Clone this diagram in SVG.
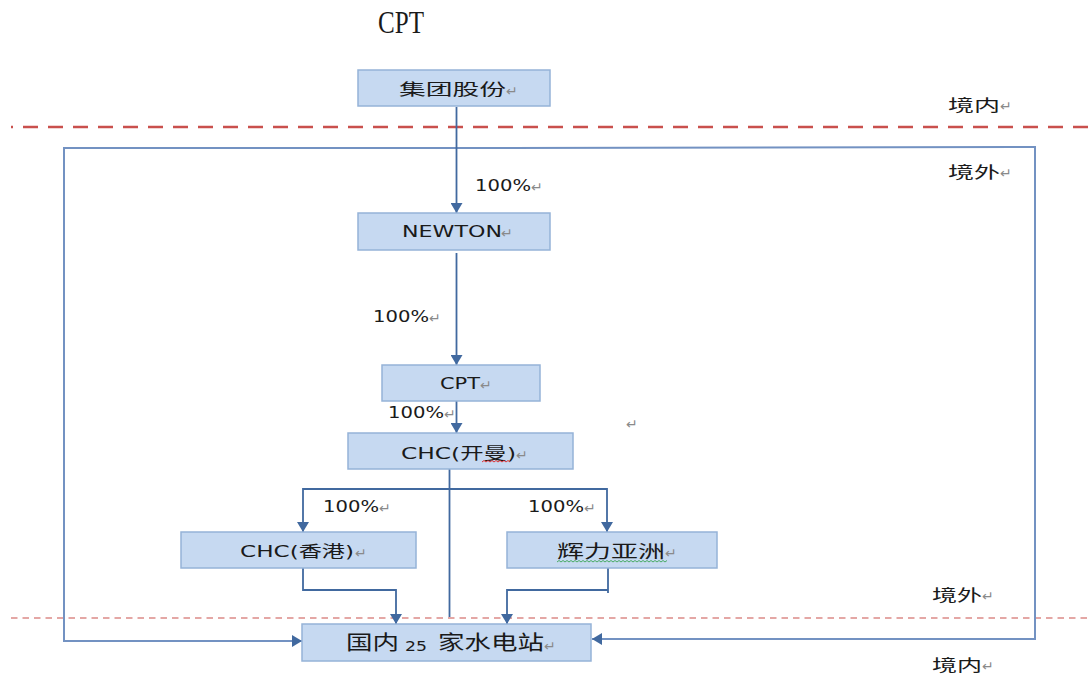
<svg xmlns="http://www.w3.org/2000/svg" width="1088" height="678" viewBox="0 0 1088 678">
<style>
.box{fill:#c6d9f1;stroke:#95b3d7;stroke-width:1.5}
.lat{font-family:"DejaVu Sans","Noto Sans CJK SC",sans-serif;fill:#1a1a1a}
.cjk{font-family:"Noto Sans CJK SC",sans-serif;fill:#1a1a1a}
.pm{font-family:"DejaVu Sans",sans-serif;font-size:14px;fill:#8a8a8a}
.conn{fill:none;stroke:#41699f;stroke-width:1.8}
.frame{fill:none;stroke:#7392c2;stroke-width:2}
.zone{fill:none;stroke:#c9504d}
</style>
<defs>
<marker id="ah" markerUnits="userSpaceOnUse" markerWidth="12" markerHeight="12" viewBox="0 0 10 12" refX="10" refY="6" orient="auto">
<path d="M0,0 L10,6 L0,12 z" fill="#41699f"/>
</marker>
</defs>
<rect width="1088" height="678" fill="#ffffff"/>

<text x="378" y="33" font-family="Liberation Serif, serif" font-size="31" fill="#1a1a1a" textLength="46" lengthAdjust="spacingAndGlyphs">CPT</text>

<g id="zones">
<line class="zone" x1="11" y1="127" x2="1088" y2="127" stroke-width="2.5" stroke-dasharray="15 10" stroke-dashoffset="13"/>
<line class="zone" x1="11" y1="618" x2="1088" y2="618" stroke-width="1.2" stroke-dasharray="6.5 5" stroke="#e07a78"/>
<text class="cjk" x="948" y="111" font-size="16" textLength="52" lengthAdjust="spacingAndGlyphs">境内</text><text class="pm" x="1000" y="111">↵</text>
<text class="cjk" x="948" y="178" font-size="16" textLength="52" lengthAdjust="spacingAndGlyphs">境外</text><text class="pm" x="1000" y="178">↵</text>
<text class="cjk" x="932" y="601" font-size="16" textLength="50" lengthAdjust="spacingAndGlyphs">境外</text><text class="pm" x="982" y="601">↵</text>
<text class="cjk" x="932" y="671" font-size="16" textLength="50" lengthAdjust="spacingAndGlyphs">境内</text><text class="pm" x="982" y="671">↵</text>
<text class="pm" x="626" y="429">↵</text>
</g>

<g id="connectors">
<path class="frame" d="M456,148 L64,148 L64,641 L302,641" marker-end="url(#ah)"/>
<path class="frame" d="M456,148 L1035,147 L1035,639 L592,639" marker-end="url(#ah)"/>
<path class="conn" d="M456.5,107 L456.5,213" marker-end="url(#ah)"/>
<path class="conn" d="M456.5,253 L456.5,365" marker-end="url(#ah)"/>
<path class="conn" d="M456.5,401 L456.5,433" marker-end="url(#ah)"/>
<path class="conn" d="M449.5,469 L449.5,617"/>
<path class="conn" d="M449.5,489 L303,489 L303,532" marker-end="url(#ah)"/>
<path class="conn" d="M449.5,489 L607,489 L607,532" marker-end="url(#ah)"/>
<path class="conn" d="M303,568 L303,590 L396,590 L396,624" marker-end="url(#ah)"/>
<path class="conn" d="M608,568 L608,593 M608,590 L507,590 L507,624" marker-end="url(#ah)"/>
<text class="lat" x="475" y="191" font-size="15" textLength="56" lengthAdjust="spacingAndGlyphs">100%</text><text class="pm" x="531" y="192">↵</text>
<text class="lat" x="373" y="322" font-size="15" textLength="56" lengthAdjust="spacingAndGlyphs">100%</text><text class="pm" x="429" y="323">↵</text>
<text class="lat" x="388" y="418" font-size="15" textLength="56" lengthAdjust="spacingAndGlyphs">100%</text><text class="pm" x="444" y="419">↵</text>
<text class="lat" x="323" y="512" font-size="15" textLength="56" lengthAdjust="spacingAndGlyphs">100%</text><text class="pm" x="379" y="513">↵</text>
<text class="lat" x="528" y="512" font-size="15" textLength="56" lengthAdjust="spacingAndGlyphs">100%</text><text class="pm" x="584" y="513">↵</text>
</g>

<g id="n1">
<rect class="box" x="358" y="70" width="192" height="36"/>
<text class="cjk" x="399" y="95" font-size="16" textLength="107" lengthAdjust="spacingAndGlyphs">集团股份</text><text class="pm" x="506" y="96">↵</text>
</g>
<g id="n2">
<rect class="box" x="358" y="213" width="192" height="37"/>
<text class="lat" x="402" y="237" font-size="15" textLength="100" lengthAdjust="spacingAndGlyphs">NEWTON</text><text class="pm" x="501" y="238">↵</text>
</g>
<g id="n3">
<rect class="box" x="382" y="365" width="158" height="36"/>
<text class="lat" x="440" y="389" font-size="15" textLength="40" lengthAdjust="spacingAndGlyphs">CPT</text><text class="pm" x="480" y="390">↵</text>
</g>
<g id="n4">
<rect class="box" x="348" y="433" width="225" height="36"/>
<text class="lat" x="401" y="459" font-size="16" textLength="115" lengthAdjust="spacingAndGlyphs">CHC(开曼)</text><text class="pm" x="516" y="460">↵</text>
<path d="M482,462 l2,-1.5 l2,1.5 l2,-1.5 l2,1.5 l2,-1.5 l2,1.5 l2,-1.5 l2,1.5 l2,-1.5 l2,1.5 l2,-1.5 l2,1.5 l2,-1.5 l2,1.5" fill="none" stroke="#e02020" stroke-width="0.9"/>
</g>
<g id="n5">
<rect class="box" x="181" y="532" width="235" height="36"/>
<text class="lat" x="240" y="557" font-size="16" textLength="114" lengthAdjust="spacingAndGlyphs">CHC(香港)</text><text class="pm" x="355" y="558">↵</text>
</g>
<g id="n6">
<rect class="box" x="507" y="532" width="210" height="36"/>
<text class="cjk" x="557" y="558" font-size="18" textLength="108" lengthAdjust="spacingAndGlyphs">辉力亚洲</text><text class="pm" x="665" y="558">↵</text>
<path d="M557,562 l2,-1.5 l2,1.5 l2,-1.5 l2,1.5 l2,-1.5 l2,1.5 l2,-1.5 l2,1.5 l2,-1.5 l2,1.5 l2,-1.5 l2,1.5 l2,-1.5 l2,1.5 l2,-1.5 l2,1.5 l2,-1.5 l2,1.5 l2,-1.5 l2,1.5 l2,-1.5 l2,1.5 l2,-1.5 l2,1.5 l2,-1.5 l2,1.5 l2,-1.5 l2,1.5 l2,-1.5 l2,1.5 l2,-1.5 l2,1.5 l2,-1.5 l2,1.5 l2,-1.5 l2,1.5 l2,-1.5 l2,1.5 l2,-1.5 l2,1.5 l2,-1.5 l2,1.5 l2,-1.5 l2,1.5 l2,-1.5 l2,1.5 l2,-1.5 l2,1.5 l2,-1.5 l2,1.5 l2,-1.5 l2,1.5 l2,-1.5 l2,1.5 l2,-1.5" fill="none" stroke="#3aa655" stroke-width="0.9"/>
</g>
<g id="n7">
<rect class="box" x="302" y="624" width="289" height="37"/>
<text class="cjk" x="346" y="650" font-size="20" textLength="53" lengthAdjust="spacingAndGlyphs">国内</text>
<text class="lat" x="405" y="651" font-size="14" textLength="22" lengthAdjust="spacingAndGlyphs">25</text>
<text class="cjk" x="438" y="650" font-size="20" textLength="106" lengthAdjust="spacingAndGlyphs">家水电站</text><text class="pm" x="544" y="651">↵</text>
</g>
</svg>
